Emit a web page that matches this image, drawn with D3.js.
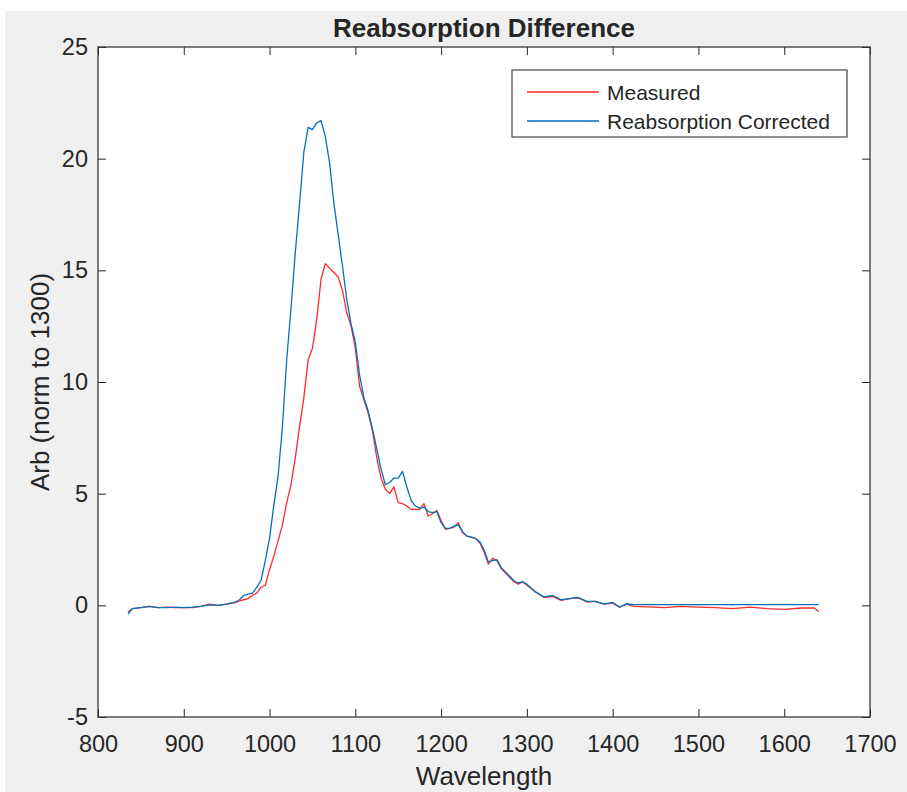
<!DOCTYPE html>
<html>
  <head>
    <meta charset="utf-8" />
    <title>Reabsorption Difference</title>
    <script src="https://d3js.org/d3.v7.min.js"></script>
    <style>
      body {
        margin: 0;
        background: #ffffff;
      }
      text {
        font-family: "Liberation Sans", Arial, Helvetica, sans-serif;
        fill: #262626;
      }
    </style>
  </head>
  <body>
    <svg id="chart"></svg>

    <script>

      // wavelength grid shared by both curves (nm)
      var wavelength = [835, 840, 850, 860, 870, 880, 890, 900, 910, 920, 930, 940, 950, 955, 960, 965,
        970, 975, 980, 985, 990, 995, 1000, 1005, 1010, 1015, 1020, 1025, 1030, 1035, 1040, 1045,
        1050, 1055, 1060, 1065, 1070, 1075, 1080, 1085, 1090, 1095, 1100, 1105, 1110, 1115, 1120,
        1125, 1130, 1135, 1140, 1145, 1150, 1155, 1160, 1165, 1170, 1175, 1180, 1185, 1190, 1195,
        1200, 1205, 1210, 1215, 1220, 1225, 1230, 1235, 1240, 1245, 1250, 1255, 1260, 1265, 1270,
        1275, 1280, 1285, 1290, 1295, 1300, 1310, 1320, 1330, 1340, 1350, 1360, 1370, 1380, 1390,
        1400, 1408, 1416, 1425, 1440, 1460, 1480, 1500, 1520, 1540, 1560, 1580, 1600, 1620, 1635, 1640];

      var measured = [-0.3, -0.15, -0.1, -0.05, -0.1, -0.08, -0.1, -0.1, -0.1, -0.05, 0.05, 0.0, 0.05, 0.1, 0.12, 0.2,
        0.25, 0.3, 0.45, 0.55, 0.8, 0.9, 1.6, 2.2, 2.9, 3.6, 4.6, 5.4, 6.6, 8.0, 9.3, 11.0,
        11.5, 12.8, 14.6, 15.3, 15.1, 14.9, 14.7, 14.1, 13.1, 12.5, 11.5, 9.8, 9.2, 8.6, 7.8,
        6.6, 5.7, 5.2, 5.0, 5.3, 4.6, 4.55, 4.45, 4.3, 4.3, 4.3, 4.55, 4.0, 4.1, 4.25,
        3.8, 3.4, 3.45, 3.5, 3.7, 3.25, 3.1, 3.05, 3.0, 2.8, 2.4, 1.85, 2.1, 2.0, 1.65,
        1.45, 1.25, 1.05, 0.95, 1.05, 0.9, 0.6, 0.35, 0.4, 0.22, 0.3, 0.33, 0.15, 0.18, 0.05,
        0.1, -0.08, 0.05, -0.05, -0.07, -0.1, -0.05, -0.08, -0.1, -0.15, -0.08, -0.15, -0.18, -0.12, -0.12, -0.28];

      var corrected = [-0.4, -0.15, -0.1, -0.05, -0.1, -0.1, -0.08, -0.1, -0.08, -0.05, 0.02, 0.0, 0.05, 0.1, 0.15, 0.25,
        0.45, 0.5, 0.55, 0.8, 1.1, 2.0, 3.0, 4.5, 5.8, 8.0, 11.0, 13.3, 15.8, 18.0, 20.3, 21.4,
        21.3, 21.6, 21.7, 21.0, 19.8, 18.0, 16.6, 15.2, 13.7, 12.6, 11.8, 10.3, 9.3, 8.7, 7.9,
        7.0, 6.1, 5.4, 5.5, 5.7, 5.7, 6.0, 5.3, 4.7, 4.45, 4.35, 4.4, 4.2, 4.15, 4.2,
        3.7, 3.45, 3.45, 3.55, 3.6, 3.3, 3.1, 3.05, 3.0, 2.85, 2.5, 1.95, 2.0, 2.05, 1.7,
        1.5, 1.3, 1.1, 1.0, 1.05, 0.95, 0.6, 0.38, 0.45, 0.25, 0.3, 0.35, 0.18, 0.18, 0.05,
        0.13, -0.08, 0.06, 0.03, 0.03, 0.03, 0.03, 0.03, 0.03, 0.03, 0.03, 0.03, 0.03, 0.03, 0.03, 0.03];

      var seriesNames = ["Measured", "Reabsorption Corrected"];
      var seriesColors = ["#ff2a2a", "#0072bd"];
      var xTicks = [800, 900, 1000, 1100, 1200, 1300, 1400, 1500, 1600, 1700];
      var yTicks = [-5, 0, 5, 10, 15, 20, 25];

      var width = 907;
      var height = 792;
      var margin = {
        top: 47,
        right: 37,
        bottom: 75,
        left: 98
      };
      var chartWidth = width - margin.left - margin.right;
      var chartHeight = height - margin.top - margin.bottom;

      var svg = d3.select("#chart")
        .attr("width", width)
        .attr("height", height);

      // figure background
      svg.append("rect")
        .attr("x", 5)
        .attr("y", 11)
        .attr("width", width - 5)
        .attr("height", height - 11)
        .attr("fill", "#f0f0f0");

      var x = d3.scaleLinear()
        .domain([800, 1700])
        .range([margin.left, margin.left + chartWidth]);

      var y = d3.scaleLinear()
        .domain([-5, 25])
        .range([margin.top + chartHeight, margin.top]);

      // plot area
      svg.append("rect")
        .attr("x", margin.left)
        .attr("y", margin.top)
        .attr("width", chartWidth)
        .attr("height", chartHeight)
        .attr("fill", "#ffffff");

      var series = [measured, corrected].map(function(values, i) {
        return {
          name: seriesNames[i],
          color: seriesColors[i],
          points: values.map(function(v, j) {
            return { w: wavelength[j], v: v };
          })
        };
      });

      var line = d3.line()
        .x(function(d) { return x(d.w); })
        .y(function(d) { return y(d.v); });

      svg.append("g").selectAll("path")
        .data(series)
        .enter().append("path")
        .attr("d", function(d) { return line(d.points); })
        .attr("fill", "none")
        .attr("stroke", function(d) { return d.color; })
        .attr("stroke-width", 1.3)
        .attr("stroke-linejoin", "round");

      // axes, ticks pointing inward on all four sides
      var tickLen = 8;
      var tickFont = "23.5px";
      var plain = function(d) { return String(d); };

      var xAxis = d3.axisBottom(x).tickValues(xTicks).tickFormat(plain)
        .tickSizeInner(-tickLen).tickSizeOuter(0).tickPadding(18);
      var gx = svg.append("g")
        .attr("transform", "translate(0," + (margin.top + chartHeight) + ")")
        .call(xAxis);

      var yAxis = d3.axisLeft(y).tickValues(yTicks).tickFormat(plain)
        .tickSizeInner(-tickLen).tickSizeOuter(0).tickPadding(10);
      var gy = svg.append("g")
        .attr("transform", "translate(" + margin.left + ",0)")
        .call(yAxis);

      var gxTop = svg.append("g")
        .attr("transform", "translate(0," + margin.top + ")")
        .call(d3.axisTop(x).tickValues(xTicks).tickSizeInner(-tickLen).tickSizeOuter(0).tickFormat(""));

      var gyRight = svg.append("g")
        .attr("transform", "translate(" + (margin.left + chartWidth) + ",0)")
        .call(d3.axisRight(y).tickValues(yTicks).tickSizeInner(-tickLen).tickSizeOuter(0).tickFormat(""));

      [gx, gy, gxTop, gyRight].forEach(function(g) {
        g.select(".domain").remove();
        g.selectAll(".tick line").attr("stroke", "#262626").attr("stroke-width", 1);
        g.selectAll("text")
          .attr("font-size", tickFont)
          .attr("font-family", "Liberation Sans, Arial, sans-serif")
          .attr("fill", "#262626");
      });

      svg.append("rect")
        .attr("x", margin.left)
        .attr("y", margin.top)
        .attr("width", chartWidth)
        .attr("height", chartHeight)
        .attr("fill", "none")
        .attr("stroke", "#3a3a3a")
        .attr("stroke-width", 1.3);

      // title and labels
      svg.append("text")
        .attr("x", margin.left + chartWidth / 2)
        .attr("y", 37)
        .attr("text-anchor", "middle")
        .attr("font-size", "26px")
        .attr("font-weight", "bold")
        .attr("fill", "#000000")
        .text("Reabsorption Difference");

      svg.append("text")
        .attr("x", margin.left + chartWidth / 2)
        .attr("y", 785)
        .attr("text-anchor", "middle")
        .attr("font-size", "26px")
        .text("Wavelength");

      svg.append("text")
        .attr("transform", "translate(49," + (margin.top + chartHeight / 2) + ") rotate(-90)")
        .attr("text-anchor", "middle")
        .attr("font-size", "26px")
        .text("Arb (norm to 1300)");

      // legend
      var legend = svg.append("g").attr("transform", "translate(512,70)");
      legend.append("rect")
        .attr("width", 335)
        .attr("height", 67)
        .attr("fill", "#ffffff")
        .attr("stroke", "#555555")
        .attr("stroke-width", 1.3);

      var items = legend.selectAll(".item")
        .data(series)
        .enter().append("g")
        .attr("class", "item")
        .attr("transform", function(d, i) { return "translate(0," + (22 + i * 29) + ")"; });

      items.append("line")
        .attr("x1", 15)
        .attr("x2", 87)
        .attr("stroke", function(d) { return d.color; })
        .attr("stroke-width", 1.3);

      items.append("text")
        .attr("x", 95)
        .attr("dy", "0.36em")
        .attr("font-size", "21px")
        .attr("fill", "#000000")
        .text(function(d) { return d.name; });

    </script>
  </body>
</html>
